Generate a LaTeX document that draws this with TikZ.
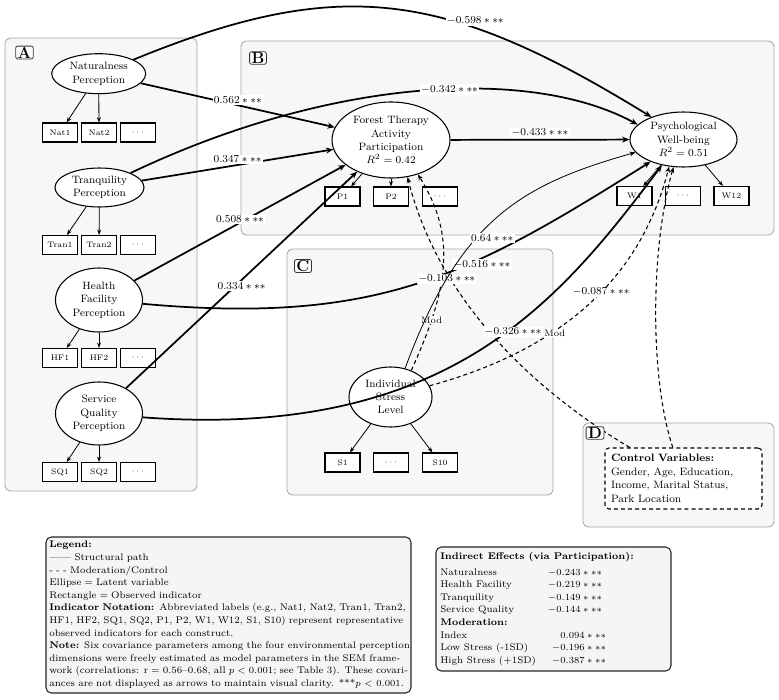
\documentclass[tikz,border=0pt]{standalone}
\usetikzlibrary{shapes.geometric,arrows.meta}
\newcommand{\jline}[1]{\makebox[\linewidth][s]{#1}}
\begin{document}
\begin{tikzpicture}[x=0.75pt,y=-0.75pt,
  panel/.style={draw=black!35, fill=black!3, rounded corners=4pt, line width=0.6pt},
  plabel/.style={draw=black!80, fill=white, rounded corners=1.5pt, font=\large\bfseries, inner xsep=1.5pt, inner ysep=0.6pt, line width=0.6pt},
  latent/.style={ellipse, draw, fill=white, line width=0.8pt, inner sep=0pt, align=center, font=\fontsize{8}{10}\selectfont},
  ind/.style={rectangle, draw, fill=white, line width=1.1pt, minimum width=26pt, minimum height=14pt, inner sep=0pt, font=\fontsize{6}{7}\selectfont},
  load/.style={-{Stealth[length=4pt,width=3pt]}, line width=0.6pt},
  struct/.style={-{Stealth[length=5.5pt,width=4.5pt]}, line width=1.3pt},
  thinpath/.style={-{Stealth[length=4.5pt,width=3.5pt]}, line width=0.6pt},
  modpath/.style={-{Stealth[length=4.5pt,width=3.5pt]}, line width=0.8pt, dash pattern=on 3pt off 2.3pt},
  coef/.style={fill=white, inner sep=1pt, font=\footnotesize},
  modlab/.style={fill=white, inner sep=0.5pt, font=\scriptsize},
  infobox/.style={draw=black!85, fill=black!4, rounded corners=4pt, line width=0.8pt},
  boxtext/.style={font=\fontsize{7.25}{9.45}\selectfont}
]
\path[fill=white, use as bounding box] (0,0) rectangle (779,700);

% panels
\draw[panel] (5,38) rectangle (197,491);
\draw[panel] (241,41) rectangle (774,235);
\draw[panel] (287,249) rectangle (553,495);
\draw[panel] (583,423) rectangle (774,527);
\node[plabel] (pA) at (24.5,52.5) {A};
\node[plabel] (pB) at (258,58) {B};
\node[plabel] (pC) at (303,266) {C};

% latent variables
\node[latent, minimum width=70.5pt, minimum height=30pt] (nat) at (98.7,73.7) {Naturalness\\Perception};
\node[latent, minimum width=66.75pt, minimum height=29.25pt] (tran) at (99.5,187.5) {Tranquility\\Perception};
\node[latent, minimum width=65.25pt, minimum height=48pt] (health) at (99,300) {Health\\Facility\\Perception};
\node[latent, minimum width=65.25pt, minimum height=47.25pt] (service) at (99,413.5) {Service\\Quality\\Perception};
\node[latent, minimum width=88.5pt, minimum height=57pt] (ftap) at (391,140) {Forest Therapy\\Activity\\Participation\\$R^2=0.42$};
\node[latent, minimum width=80.25pt, minimum height=41.25pt] (psych) at (683.5,139.5) {Psychological\\Well-being\\$R^2=0.51$};
\node[latent, minimum width=62.25pt, minimum height=45pt] (stress) at (390.5,397) {Individual\\Stress\\Level};

% indicators
\node[ind] (nat1) at (60,132.5) {Nat1};
\node[ind] (nat2) at (99,132.5) {Nat2};
\node[ind] (nat3) at (138,132.5) {$\cdots$};
\node[ind] (tran1) at (60,245) {Tran1};
\node[ind] (tran2) at (99,245) {Tran2};
\node[ind] (tran3) at (138,245) {$\cdots$};
\node[ind] (hf1) at (60,358) {HF1};
\node[ind] (hf2) at (99,358) {HF2};
\node[ind] (hf3) at (138,358) {$\cdots$};
\node[ind] (sq1) at (60,472) {SQ1};
\node[ind] (sq2) at (99,472) {SQ2};
\node[ind] (sq3) at (138,472) {$\cdots$};
\node[ind] (p1) at (342.5,196.5) {P1};
\node[ind] (p2) at (391,196.5) {P2};
\node[ind] (p3) at (440,196.5) {$\cdots$};
\node[ind] (w1) at (634.5,196) {W1};
\node[ind] (w2) at (683,196) {$\cdots$};
\node[ind] (w12) at (731.5,196) {W12};
\node[ind] (s1) at (342.5,462.5) {S1};
\node[ind] (s2) at (391,462.5) {$\cdots$};
\node[ind] (s10) at (440,462.5) {S10};

% control variables
\node[draw, dash pattern=on 3pt off 2.3pt, rounded corners=3pt, fill=white, line width=0.8pt,
      text width=108.75pt, inner xsep=4.5pt, minimum height=45.75pt, align=left,
      font=\fontsize{8}{10.1}\selectfont] (ctrl) at (683.5,478.5)
  {\textbf{Control Variables:}\\Gender, Age, Education,\\Income, Marital Status,\\Park Location};

% loadings
\foreach \a/\b in {nat/nat1,nat/nat2,tran/tran1,tran/tran2,health/hf1,health/hf2,service/sq1,service/sq2,ftap/p1,ftap/p2,psych/w1,psych/w12,stress/s1,stress/s10}
  \draw[load] (\a) -- (\b);

% dashed moderation / control paths
\draw[modpath] (ctrl.150) .. controls (535,391) and (439,302) .. (ftap.294);
\draw[modpath] (ctrl.109) .. controls (650,380) and (650,250) .. (psych.250);
\draw[modpath] (stress.52) .. controls (449,288) and (456.5,236) .. (ftap.308)
  node[modlab, pos=0.22] (m1) {Mod};
\draw[modpath] (stress.16) .. controls (560,350) and (640,280) .. (psych.242)
  node[modlab, pos=0.36, xshift=3pt] (m2) {Mod}
  node[coef, pos=0.56] (l10) {$-0.087***$};

% D label (over the dashed line)
\node[plabel] (pD) at (595,433) {D};

% structural paths
\draw[struct] (nat.22) .. controls (340,-25) and (445,-10) .. (psych.145)
  node[coef, pos=0.675, yshift=5.5pt] (l1) {$-0.598***$};
\draw[struct] (nat) -- (ftap) node[coef, midway, yshift=3.75pt] (l2) {$0.562***$};
\draw[struct] (tran.25) .. controls (333.7,76.2) and (532.6,67.2) .. (psych.162)
  node[coef, pos=0.555] (l3) {$-0.342***$};
\draw[struct] (tran) -- (ftap) node[coef, midway, yshift=4.1pt] (l4) {$0.347***$};
\draw[struct] (health) -- (ftap) node[coef, midway, yshift=2.5pt] (l5) {$0.508***$};
\draw[struct] (service) -- (ftap) node[coef, midway, yshift=-4.5pt] (l6) {$0.334***$};
\draw[struct] (ftap) -- (psych) node[coef, midway, yshift=5pt] (l7) {$-0.433***$};
\draw[struct] (service.355) .. controls (450,440) and (560,300) .. (psych.230)
  node[coef, pos=0.575, yshift=-3.75pt] (l8) {$-0.326***$};
\draw[struct] (health.355) .. controls (380,325) and (470,275) .. (psych.214)
  node[coef, pos=0.565, yshift=-4.5pt] (l9) {$-0.103***$}
  node[coef, pos=0.645, yshift=-4.7pt] (l11) {$-0.516***$};

% thin path
\draw[thinpath] (stress.63) .. controls (460,220) and (520,185) .. (psych.195)
  node[coef, pos=0.45, xshift=4pt, yshift=-8.25pt] (l12) {$0.64***$};

% legend
\draw[infobox] (46,537) rectangle (411,693);
\node[boxtext, anchor=north west, inner sep=0pt, text width=266pt, align=left] (leg) at (49,541)
{\textbf{Legend:}\\
\textemdash\textemdash{} Structural path\\
- - - Moderation/Control\\
Ellipse $=$ Latent variable\\
Rectangle $=$ Observed indicator\\
\jline{\textbf{Indicator Notation:} Abbreviated labels (e.g., Nat1, Nat2, Tran1, Tran2,}\\
\jline{HF1, HF2, SQ1, SQ2, P1, P2, W1, W12, S1, S10) represent representative}\\
observed indicators for each construct.\\
\jline{\textbf{Note:} Six covariance parameters among the four environmental perception}\\
\jline{dimensions were freely estimated as model parameters in the SEM frame-}\\
\jline{work (correlations: r $=$ 0.56--0.68, all $p<0.001$; see Table 3). These covari-}\\
\jline{ances are not displayed as arrows to maintain visual clarity. ***$p<0.001$.}};

% indirect effects
\draw[infobox] (436,547) rectangle (671,671);
\node[boxtext, anchor=north west, inner sep=0pt] (ind) at (440,550)
{\begin{tabular}{@{}l@{\hspace{9pt}}r@{}}
\multicolumn{2}{@{}l@{}}{\makebox[0pt][l]{\textbf{Indirect Effects (via Participation):}}}\\[2.5pt]
Naturalness & $-0.243***$\kern3pt\\
Health Facility & $-0.219***$\kern3pt\\
Tranquility & $-0.149***$\kern3pt\\
Service Quality & $-0.144***$\kern3pt\\
\textbf{Moderation:} & \\
Index & $0.094***$\\
Low Stress (-1SD) & $-0.196***$\\
High Stress (+1SD) & $-0.387***$
\end{tabular}};
\end{tikzpicture}
\end{document}
